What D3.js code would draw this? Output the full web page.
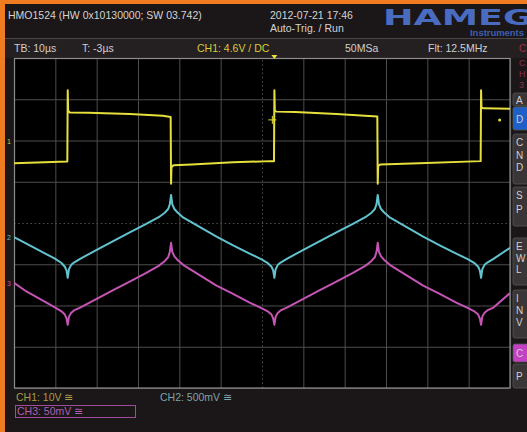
<!DOCTYPE html>
<html><head><meta charset="utf-8">
<script src="https://cdn.jsdelivr.net/npm/d3@7"></script>
<style>html,body{margin:0;padding:0;background:#1b1617;}svg{display:block;}</style>
</head><body>
<script>
// ---- data (time in µs, amplitude in screen divisions) ----
const xTicks = [-63,-53,-43,-33,-23,-13,-3,7,17,27,37,47,57];
const yTicks = [-4,-3,-2,-1,0,1,2,3,4];

const ch1T = [-63,-50.1,-50.0,-49.9,-49.5,-45,-35,-27,-25.1,-25.0,-24.9,-24.4,-20,-10,-1,-0.1,0,0.1,0.5,5,15,24.9,25,25.1,25.6,35,49.9,50,50.1,50.6,57];
const ch1V = [1.45,1.49,3.22,2.72,2.68,2.67,2.64,2.60,2.57,0.95,1.35,1.40,1.42,1.47,1.50,1.50,3.22,2.72,2.70,2.69,2.64,2.58,0.95,1.38,1.42,1.45,1.50,3.22,2.80,2.78,2.77];

const ch2T = [-63,-60,-56,-53,-51.5,-50.7,-50.3,-50,-49.7,-49.2,-48.5,-47,-43,-39,-35,-31,-28,-26.5,-25.7,-25.3,-25,-24.7,-24.2,-23.5,-22,-18,-14,-10,-6,-3,-1.5,-0.7,-0.3,0,0.3,0.8,1.5,3,7,11,15,19,22,23.5,24.3,24.7,25,25.3,25.8,26.5,28,32,36,40,44,47,48.5,49.3,49.7,50,50.3,50.8,51.5,53,57];
const ch2V = [-0.34,-0.50,-0.71,-0.87,-0.97,-1.06,-1.15,-1.33,-1.12,-1.02,-0.96,-0.87,-0.65,-0.44,-0.23,-0.02,0.14,0.25,0.34,0.45,0.68,0.45,0.34,0.26,0.13,-0.10,-0.33,-0.54,-0.74,-0.89,-0.98,-1.06,-1.15,-1.33,-1.12,-1.02,-0.96,-0.87,-0.65,-0.44,-0.23,-0.02,0.14,0.25,0.34,0.45,0.68,0.45,0.34,0.26,0.13,-0.10,-0.33,-0.54,-0.74,-0.89,-0.98,-1.06,-1.15,-1.33,-1.12,-1.02,-0.96,-0.87,-0.60];

const ch3T = ch2T;
const ch3V = [-1.45,-1.66,-1.88,-2.05,-2.14,-2.22,-2.31,-2.47,-2.27,-2.18,-2.12,-2.05,-1.84,-1.63,-1.42,-1.21,-1.04,-0.92,-0.83,-0.70,-0.48,-0.70,-0.81,-0.89,-1.02,-1.27,-1.52,-1.72,-1.93,-2.07,-2.15,-2.22,-2.31,-2.47,-2.27,-2.18,-2.12,-2.05,-1.84,-1.63,-1.42,-1.21,-1.04,-0.92,-0.83,-0.70,-0.48,-0.70,-0.81,-0.89,-1.02,-1.27,-1.52,-1.72,-1.93,-2.07,-2.15,-2.22,-2.31,-2.47,-2.27,-2.18,-2.12,-2.05,-1.70];

const headerTexts = ["HMO1524 (HW 0x10130000; SW 03.742)", "2012-07-21 17:46", "Auto-Trig. / Run"];
const statusTexts = ["TB: 10µs", "T: -3µs", "CH1: 4.6V / DC", "50MSa", "Flt: 12.5MHz"];
const footTexts = ["CH1: 10V ≅", "CH2: 500mV ≅", "CH3: 50mV ≅"];
const menuLetters = [["A"],["D"],["C","N","D"],["S","P"],["E","W","L"],["I","N","V"],["C"],["P"]];

// ---- drawing ----
const W = 527, H = 432;
const svg = d3.select("body").append("svg").attr("width", W).attr("height", H);
const font = "Liberation Sans, Arial, sans-serif";

svg.append("rect").attr("width", W).attr("height", H).attr("fill", "#1b1617");
svg.append("rect").attr("x", 0).attr("y", 39).attr("width", W).attr("height", 19).attr("fill", "#241f20");
svg.append("line").attr("x1", 5).attr("x2", W).attr("y1", 38.5).attr("y2", 38.5).attr("stroke", "#4a4546");
// orange frame
svg.append("rect").attr("x", 0).attr("y", 0).attr("width", W).attr("height", 4).attr("fill", "#f07c22");
svg.append("rect").attr("x", 0).attr("y", 0).attr("width", 5).attr("height", H).attr("fill", "#f07c22");

// header
svg.append("text").attr("x", 8).attr("y", 19).text(headerTexts[0]).attr("fill", "#d4d4d4").attr("font-family", font).attr("font-size", 10.5);
svg.append("text").attr("x", 270).attr("y", 19).text(headerTexts[1]).attr("fill", "#d4d4d4").attr("font-family", font).attr("font-size", 10.5);
svg.append("text").attr("x", 270).attr("y", 32).text(headerTexts[2]).attr("fill", "#d4d4d4").attr("font-family", font).attr("font-size", 10.5);
svg.append("text").attr("x", 383).attr("y", 25).text("HAMEG").attr("fill", "#4a6cc0").attr("font-family", "DejaVu Sans, sans-serif").attr("font-weight", "bold").attr("font-size", 22).attr("textLength", 150).attr("lengthAdjust", "spacingAndGlyphs");
svg.append("text").attr("x", 470).attr("y", 36).text("Instruments").attr("fill", "#3e5fb0").attr("font-family", font).attr("font-weight", "bold").attr("font-size", 9).attr("textLength", 54).attr("lengthAdjust", "spacingAndGlyphs");

// status row
const stX = [14, 82, 197, 345, 428];
const stC = ["#cfcfcf", "#cfcfcf", "#d9cb3a", "#cfcfcf", "#cfcfcf"];
statusTexts.forEach((t, i) => svg.append("text").attr("x", stX[i]).attr("y", 52).text(t).attr("fill", stC[i]).attr("font-family", font).attr("font-size", 10.5));
svg.append("text").attr("x", 519).attr("y", 52).text("C").attr("fill", "#a03048").attr("font-family", font).attr("font-size", 10);

// scales
const x = d3.scaleLinear().domain([-63, 57]).range([14, 510]);
const y = d3.scaleLinear().domain([-4, 4]).range([388, 58]);

svg.append("rect").attr("x", 14).attr("y", 58).attr("width", 496).attr("height", 330).attr("fill", "#000");

// grid via axes
const gx = svg.append("g").attr("transform", "translate(0,388)")
  .call(d3.axisBottom(x).tickValues(xTicks).tickSize(-330).tickFormat(""));
gx.select(".domain").remove();
gx.selectAll("line").attr("stroke", "#4d4d4d").attr("stroke-width", 1)
  .attr("stroke-dasharray", d => d === -3 ? "1.5 2.63" : null);
const gy = svg.append("g").attr("transform", "translate(14,0)")
  .call(d3.axisLeft(y).tickValues(yTicks).tickSize(-496).tickFormat(""));
gy.select(".domain").remove();
gy.selectAll("line").attr("stroke", "#4d4d4d").attr("stroke-width", 1)
  .attr("stroke-dasharray", d => d === 0 ? "1.5 2.63" : null);

svg.append("rect").attr("x", 14.5).attr("y", 58.5).attr("width", 495.5).attr("height", 329.5).attr("fill", "none").attr("stroke", "#8c8c8c").attr("stroke-width", 1.2);

// traces
const clip = svg.append("clipPath").attr("id", "pc").append("rect").attr("x", 14).attr("y", 58).attr("width", 496).attr("height", 330);
const line = d3.line().x(d => x(d[0])).y(d => y(d[1]));
const traces = [[ch3T, ch3V, "#c455b4"], [ch2T, ch2V, "#62c3cf"], [ch1T, ch1V, "#e6df3c"]];
traces.forEach(([T, V, c]) => {
  svg.append("path").attr("clip-path", "url(#pc)").attr("d", line(T.map((t, i) => [t, V[i]])))
    .attr("fill", "none").attr("stroke", c).attr("stroke-width", 2).attr("stroke-linejoin", "round");
});

// trigger markers
const tg = svg.append("g").attr("stroke", "#e6df3c").attr("stroke-width", 1);
tg.append("line").attr("x1", x(-0.5) - 4).attr("x2", x(-0.5) + 4).attr("y1", y(2.5)).attr("y2", y(2.5));
tg.append("line").attr("x1", x(-0.5)).attr("x2", x(-0.5)).attr("y1", y(2.5) - 4).attr("y2", y(2.5) + 4);
svg.append("circle").attr("cx", x(54.5)).attr("cy", y(2.5)).attr("r", 1.5).attr("fill", "#e6df3c");
svg.append("path").attr("d", `M${x(0)-3},55 L${x(0)+3},55 L${x(0)},59 Z`).attr("fill", "#e6df3c");

// channel markers on left edge
[["1", 2.0, "#d9cb3a"], ["2", -0.34, "#62c3cf"], ["3", -1.45, "#c455b4"]].forEach(([s, v, c]) => {
  svg.append("text").attr("x", 7).attr("y", y(v) + 3).text(s).attr("fill", c).attr("font-family", font).attr("font-size", 7);
});

// footer
svg.append("text").attr("x", 16).attr("y", 401).text(footTexts[0]).attr("fill", "#a89c48").attr("font-family", font).attr("font-size", 10.5);
svg.append("text").attr("x", 160).attr("y", 401).text(footTexts[1]).attr("fill", "#7ea4ac").attr("font-family", font).attr("font-size", 10.5);
svg.append("rect").attr("x", 15.5).attr("y", 405.5).attr("width", 120).attr("height", 12).attr("fill", "none").attr("stroke", "#a04a9a").attr("stroke-width", 1);
svg.append("text").attr("x", 17).attr("y", 415).text(footTexts[2]).attr("fill", "#b060b0").attr("font-family", font).attr("font-size", 10.5);

// right menu (partially visible)
const boxY = [[93,106],[107,130],[134,184],[187,226],[238,285],[290,338],[344,362],[364,388]];
const boxFill = ["#3a3536","#1f5fc8","#3a3536","#3a3536","#3a3536","#3a3536","#c440c4","#3a3536"];
menuLetters.forEach((ls, i) => {
  const [y0, y1] = boxY[i];
  svg.append("rect").attr("x", 513).attr("y", y0).attr("width", 20).attr("height", y1 - y0).attr("rx", 2).attr("fill", boxFill[i]).attr("stroke", "#555").attr("stroke-width", 0.8);
  ls.forEach((l, j) => {
    const yy = ls.length === 1 ? (y0 + y1) / 2 + 4 : y0 + 12 + j * ((y1 - y0 - 12) / ls.length);
    svg.append("text").attr("x", 516).attr("y", yy).text(l).attr("fill", "#cfcfcf").attr("font-family", font).attr("font-size", 10);
  });
});
["C", "H", "3"].forEach((l, j) => svg.append("text").attr("x", 519).attr("y", 66 + j * 11).text(l).attr("fill", "#8a3050").attr("font-family", font).attr("font-size", 9));
</script>
</body></html>
